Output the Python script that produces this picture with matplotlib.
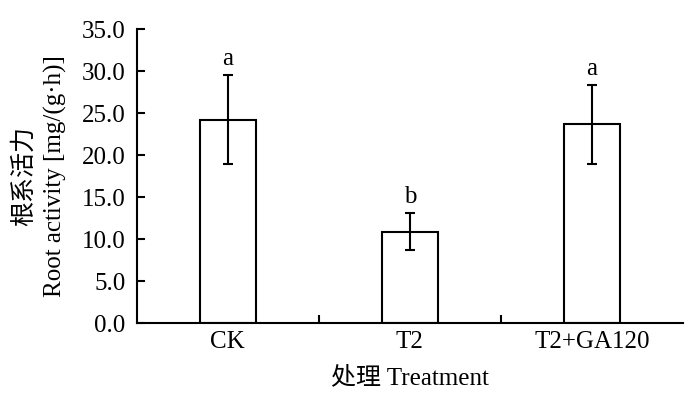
import numpy as np
import matplotlib.pyplot as plt

# data
groups = ["CK", "T2", "T2+GA120"]
means = [24.2, 10.9, 23.7]
errs = [5.3, 2.2, 4.7]
letters = ["a", "b", "a"]

plt.rcParams['font.family'] = ['Liberation Serif', 'Noto Sans CJK SC']
plt.rcParams['font.size'] = 18

fig = plt.figure(figsize=(6.98, 3.94), dpi=100)
ax = fig.add_axes([0.196, 0.180, 0.7825, 0.746])

x = np.arange(len(groups))
ax.bar(x, means, width=0.31, color='white', edgecolor='black', linewidth=1.5,
       yerr=errs, capsize=3.6,
       error_kw=dict(elinewidth=1.5, capthick=1.5, ecolor='black'))

for xi, m, e, l in zip(x, means, errs, letters):
    ax.text(xi, m + e + 0.6, l, ha='center', va='bottom', fontsize=18)

ax.set_xlim(-0.5, 2.5)
ax.set_ylim(0, 35)
ax.set_yticks(np.arange(0, 36, 5))
ax.set_yticklabels([f"{v:.1f}" for v in np.arange(0, 36, 5)])
ax.set_xticks(x)
ax.set_xticklabels(groups)
ax.set_xticks([0.5, 1.5], minor=True)
ax.tick_params(axis='x', which='major', length=0, pad=6)
ax.tick_params(axis='x', which='minor', direction='in', length=6, width=1.5)
ax.tick_params(axis='y', direction='in', length=6, width=1.5, pad=8)

for s in ['top', 'right']:
    ax.spines[s].set_visible(False)
for s in ['left', 'bottom']:
    ax.spines[s].set_linewidth(1.5)

ax.set_ylabel("根系活力\nRoot activity [mg/(g·h)]", fontsize=18, labelpad=11,
              linespacing=1.45)
ax.set_xlabel("处理 Treatment", fontsize=18, labelpad=9)

fig.savefig("out.png", dpi=100)
